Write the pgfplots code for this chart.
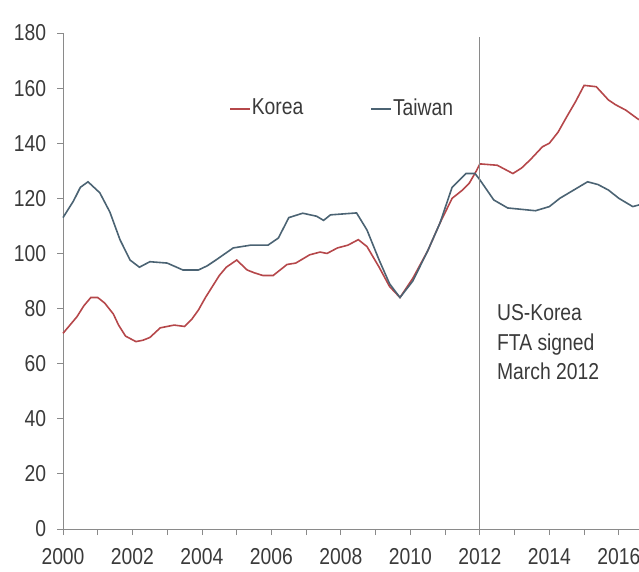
\documentclass[border=0pt]{standalone}
\usepackage{fontspec}
\setmainfont{Liberation Sans}[FakeStretch=0.84]
\usepackage{pgfplots}
\pgfplotsset{compat=1.18}
\definecolor{korea}{HTML}{B5474A}
\definecolor{taiwan}{HTML}{4B6373}
\definecolor{axgray}{HTML}{8A8A8A}
\definecolor{txt}{HTML}{3A3A3A}
\begin{document}
\fontsize{23}{27}\selectfont
\begin{tikzpicture}
\begin{axis}[
  at={(0pt,0pt)}, anchor=south west,
  scale only axis, width=576pt, height=496pt,
  xmin=2000, xmax=2016.58, ymin=0, ymax=180,
  axis x line*=bottom, axis y line*=left,
  axis line style={axgray, line width=0.9pt},
  xtick={2000,2002,...,2016}, minor xtick={2001,2003,...,2015},
  ytick={0,20,...,180},
  tick align=outside, major tick length=6pt, minor tick length=6pt,
  tick style={axgray, line width=0.9pt},
  tick label style={text=txt},
  yticklabel style={xshift=-3pt},
  xticklabel style={yshift=-6pt},
  /pgf/number format/1000 sep={},
  /pgf/number format/assume math mode=true,
  clip=false,
  legend columns=2,
  legend image code/.code={\draw[#1] (0pt,0pt) -- (20pt,0pt);},
  legend style={draw=none, fill=none, at={(axis cs:2004.78,152.5)}, anchor=west,
    inner sep=0pt, nodes={inner xsep=1pt, text=txt},
    /tikz/every even column/.append style={column sep=66pt}},
]
\addplot[korea, line width=1.6pt] coordinates {
(2000.0,71) (2000.2,74) (2000.4,77) (2000.6,81) (2000.8,84) (2001.0,84)
(2001.2,82) (2001.45,78) (2001.6,74) (2001.8,70) (2002.1,68) (2002.3,68.5)
(2002.5,69.5) (2002.8,73) (2003.0,73.5) (2003.2,74) (2003.5,73.5) (2003.7,76)
(2003.9,79.5) (2004.1,84) (2004.3,88) (2004.5,92) (2004.7,95) (2005.0,97.6)
(2005.3,94) (2005.5,93) (2005.75,92) (2006.05,92) (2006.25,94) (2006.45,96)
(2006.7,96.5) (2006.9,98) (2007.1,99.5) (2007.4,100.5) (2007.6,100) (2007.9,102)
(2008.2,103) (2008.5,105) (2008.75,102.5) (2009.1,95) (2009.4,88) (2009.7,84)
(2010.07,91) (2010.5,101) (2010.85,111) (2011.2,120) (2011.5,123) (2011.7,125.6)
(2011.9,130) (2012.0,132.5) (2012.5,132) (2012.95,129) (2013.2,131) (2013.45,134)
(2013.8,138.7) (2014.0,140) (2014.25,144) (2014.5,149.6) (2014.75,155) (2015.0,161)
(2015.35,160.5) (2015.7,155.7) (2015.9,154) (2016.2,152) (2016.58,148.5)
};
\addlegendentry{Korea}
\addplot[taiwan, line width=1.6pt] coordinates {
(2000.0,113) (2000.3,119) (2000.5,124) (2000.72,126) (2001.06,122) (2001.35,115)
(2001.64,105) (2001.93,97.6) (2002.2,95) (2002.5,97) (2003.0,96.5) (2003.45,94)
(2003.9,94) (2004.15,95.5) (2004.4,97.6) (2004.9,102) (2005.4,103) (2005.9,103)
(2006.2,105.6) (2006.5,113) (2006.9,114.6) (2007.3,113.5) (2007.5,112) (2007.7,114)
(2008.45,114.7) (2008.75,108.5) (2009.1,97.6) (2009.4,89) (2009.7,84) (2010.07,90)
(2010.5,101) (2010.85,111) (2011.2,124) (2011.6,129) (2011.86,129) (2012.0,126.7)
(2012.4,119.4) (2012.8,116.5) (2013.6,115.5) (2014.0,117) (2014.3,120) (2015.1,126)
(2015.4,125) (2015.7,123) (2016.0,120) (2016.4,117) (2016.58,117.6)
};
\addlegendentry{Taiwan}
\draw[axgray, line width=0.9pt] (axis cs:2012,0) -- (axis cs:2012,178.5);
\node[anchor=north west, align=left, text=txt, inner sep=0pt,
  font=\fontsize{23}{29.5}\selectfont] at (axis cs:2012.49,81.5)
  {US-Korea\\FTA signed\\March 2012};
\end{axis}
\pgfresetboundingbox
\path[use as bounding box] (-63pt,-43pt) rectangle (576pt,529pt);
\end{tikzpicture}
\end{document}
